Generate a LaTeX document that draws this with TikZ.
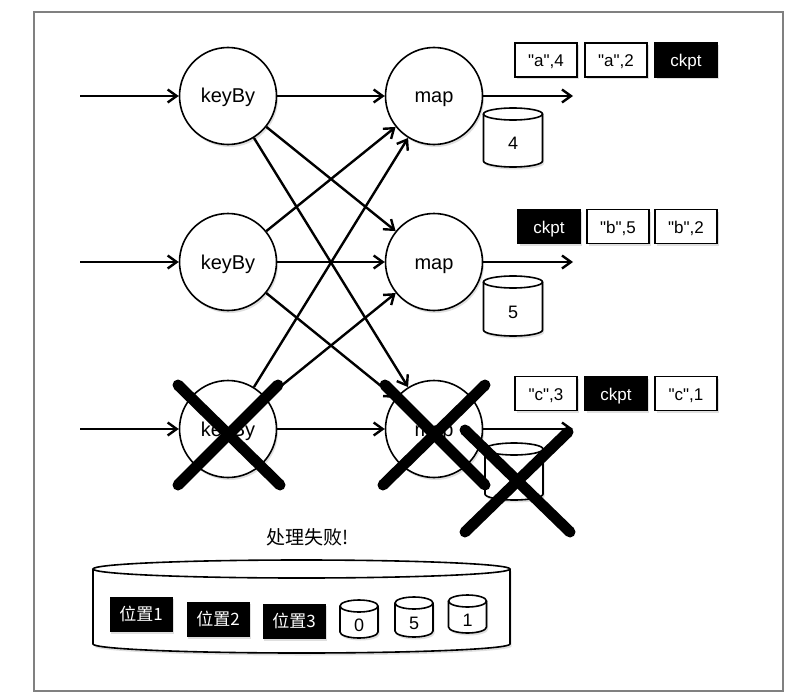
\documentclass[tikz,border=0pt]{standalone}
\usepackage{fontspec}
\setmainfont{Liberation Sans}
\newfontfamily\plainsans{Liberation Sans}[Ligatures=ResetAll]
\newfontfamily\cjk{Noto Sans CJK SC}
\usetikzlibrary{arrows.meta,shadows}
\newcommand\mycyl[5]{% cx top bottom halfwidth ry
  \fill[white,softshadow] (#1-#4,#2+#5) -- (#1-#4,#3-#5) arc[start angle=180,end angle=360,x radius=#4pt,y radius=#5pt] -- (#1+#4,#2+#5) arc[start angle=0,end angle=180,x radius=#4pt,y radius=#5pt] -- cycle;
  \draw[cylline] (#1-#4,#2+#5) -- (#1-#4,#3-#5) arc[start angle=180,end angle=360,x radius=#4pt,y radius=#5pt] -- (#1+#4,#2+#5);
  \draw[cylline] (#1,#2+#5) ellipse[x radius=#4pt,y radius=#5pt];
}
\newcommand\qq{{\plainsans\char34}}
\tikzset{
  softshadow/.style={drop shadow={opacity=0.25,shadow xshift=1.5pt,shadow yshift=-2.5pt}},
  cylline/.style={line width=1.6pt},
  circ/.style={circle,draw,line width=1.6pt,fill=white,minimum size=97pt,inner sep=0pt,
    text height=18pt,text depth=4pt,
    font=\fontsize{20}{24}\selectfont,softshadow},
  rec/.style={draw,line width=1.8pt,fill=white,minimum width=62pt,minimum height=34pt,inner sep=0pt,
    text height=16pt,text depth=3pt,
    font=\plainsans\fontsize{17}{20}\selectfont,softshadow},
  ck/.style={rec,fill=black,text=white},
  posbox/.style={fill=black,text=white,minimum width=63pt,minimum height=35pt,inner sep=0pt,
    font=\cjk\fontsize{17}{20}\selectfont,softshadow},
  cyllabel/.style={inner sep=0pt,font=\fontsize{18}{22}\selectfont},
  flow/.style={line width=2.4pt,-{Straight Barb[length=9pt,width=13pt]}},
  cross/.style={line width=11pt,line cap=round},
}
\begin{document}
\begin{tikzpicture}[x=1pt,y=-1pt]
\useasboundingbox (0,0) rectangle (800,698);
\fill[white] (0,0) rectangle (800,698);
\draw[gray,line width=1.3pt] (34,12) rectangle (783,691);

% operator nodes
\node[circ] (k1) at (228,96) {keyBy};
\node[circ] (k2) at (228,262) {keyBy};
\node[circ] (k3) at (228,429) {keyBy};
\node[circ] (m1) at (434,96) {map};
\node[circ] (m2) at (434,262) {map};
\node[circ] (m3) at (434,429) {map};

% inputs / outputs
\coordinate (i1) at (80,96);
\coordinate (i2) at (80,262);
\coordinate (i3) at (80,429);
\coordinate (o1) at (573,96);
\coordinate (o2) at (573,262);
\coordinate (o3) at (573,429);
\foreach \n in {1,2,3}{
  \draw[flow] (i\n) -- (k\n);
  \draw[flow] (m\n) -- (o\n);
}
\foreach \a in {1,2,3}{
  \foreach \b in {1,2,3}{
    \draw[flow] (k\a) -- (m\b);
  }
}

% state cylinders
\mycyl{513}{108}{167}{29.5}{6}
\node[cyllabel] (s1) at (513,143) {4};
\mycyl{513}{276}{336}{29.5}{6}
\node[cyllabel] (s2) at (513,312) {5};
\mycyl{514}{443}{500}{29}{6}

% records
\node[rec] (r11) at (546,60) {\qq a\qq,4};
\node[rec] (r12) at (616,60) {\qq a\qq,2};
\node[ck]  (r13) at (686,60) {ckpt};
\node[ck]  (r21) at (549,226.5) {ckpt};
\node[rec] (r22) at (618,226.5) {\qq b\qq,5};
\node[rec] (r23) at (686,226.5) {\qq b\qq,2};
\node[rec] (r31) at (546,393.5) {\qq c\qq,3};
\node[ck]  (r32) at (616,393.5) {ckpt};
\node[rec] (r33) at (686,393.5) {\qq c\qq,1};

% failure crosses
\draw[cross] (178,385) -- (280,485);
\draw[cross] (278,385) -- (178,485);
\draw[cross] (385,385) -- (485,485);
\draw[cross] (485,385) -- (383,485);
\draw[cross] (465,430) -- (570,532);
\draw[cross] (568,432) -- (465,532);

\node[font=\cjk\fontsize{19}{22}\selectfont] (fail) at (308,537) {处理失败!};

% checkpoint storage
\mycyl{301.5}{560}{653}{208.5}{9}
\node[posbox] (p1) at (141,614) {位置1};
\node[posbox] (p2) at (218,619) {位置2};
\node[posbox] (p3) at (294,621) {位置3};
\mycyl{359}{600}{638}{19}{6}
\node[cyllabel] (b0) at (359,625) {0};
\mycyl{414}{597}{637}{19}{6}
\node[cyllabel] (b5) at (414,623) {5};
\mycyl{467.5}{595}{633}{19}{6}
\node[cyllabel] (b1) at (467.5,620) {1};
\end{tikzpicture}
\end{document}
